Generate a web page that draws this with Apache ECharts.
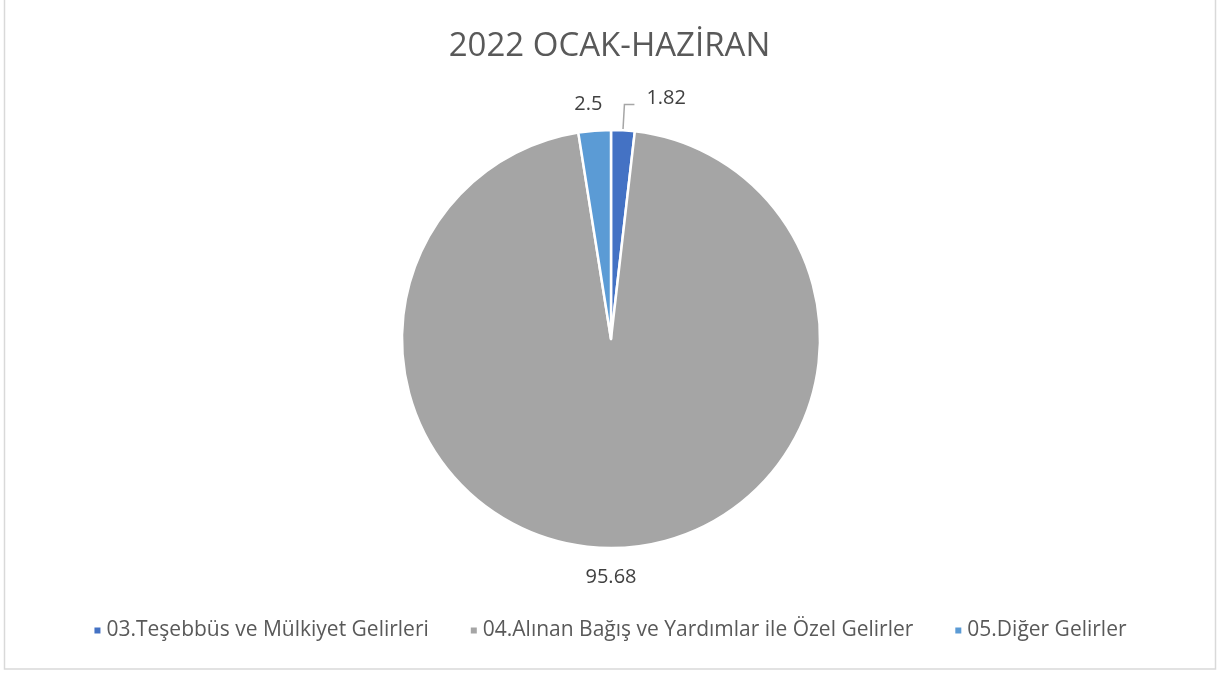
<!DOCTYPE html>
<html>
<head>
<meta charset="utf-8">
<script src="https://cdn.jsdelivr.net/npm/echarts@6/dist/echarts.min.js"></script>
<style>
  html, body { margin: 0; padding: 0; background: #fff; }
  #chart { width: 1219px; height: 674px; }
</style>
</head>
<body>
<div id="chart"></div>
<script>
// veriler
const categories = ['03.Teşebbüs ve Mülkiyet Gelirleri', '04.Alınan Bağış ve Yardımlar ile Özel Gelirler', '05.Diğer Gelirler'];
const values = [1.82, 95.68, 2.5];
const colors = ['#4472C4', '#A5A5A5', '#5B9BD5'];

const chart = echarts.init(document.getElementById('chart'));

const cx = 611, cy = 339;

// etiket çizgisi ayarları (dilim başına)
const lineLens = [[26, 10], [29, 0], [27, 0]];

const pieData = categories.map(function (name, i) {
  return {
    name: name,
    value: values[i],
    itemStyle: { color: colors[i] },
    labelLine: { show: i === 0, length: lineLens[i][0], length2: lineLens[i][1] }
  };
});

const option = {
  backgroundColor: '#fff',
  graphic: [{
    type: 'rect',
    shape: { x: 4.5, y: -2, width: 1211, height: 671 },
    style: { fill: 'none', stroke: '#D9D9D9', lineWidth: 1.5 },
    silent: true
  }],
  title: {
    text: '2022 OCAK-HAZİRAN',
    left: 'center',
    top: 25,
    textStyle: {
      color: '#595959',
      fontFamily: 'Open Sans',
      fontSize: 33,
      fontWeight: 'normal'
    }
  },
  legend: {
    bottom: 28,
    left: 'center',
    itemWidth: 8,
    itemHeight: 8,
    itemGap: 40,
    icon: 'rect',
    textStyle: {
      color: '#595959',
      fontFamily: 'Open Sans',
      fontSize: 21
    },
    data: categories
  },
  series: [{
    type: 'pie',
    center: [cx, cy],
    radius: 209,
    startAngle: 90,
    clockwise: true,
    animation: false,
    itemStyle: { borderColor: '#fff', borderWidth: 2.5 },
    label: {
      show: true,
      position: 'outside',
      formatter: '{c}',
      color: '#404040',
      fontFamily: 'Open Sans',
      fontSize: 20
    },
    labelLine: {
      show: true,
      lineStyle: { color: '#A6A6A6', width: 1.5 }
    },
    labelLayout: function (p) {
      const r = p.labelRect;
      if (p.dataIndex === 1) {
        // alttaki etiketi ortala
        return { dx: cx - (r.x + r.width / 2) };
      }
      if (p.dataIndex === 2) {
        return { dx: 15, dy: 1 };
      }
      return { dx: 7, dy: -6 };
    },
    data: pieData
  }]
};

chart.setOption(option);
</script>
</body>
</html>
